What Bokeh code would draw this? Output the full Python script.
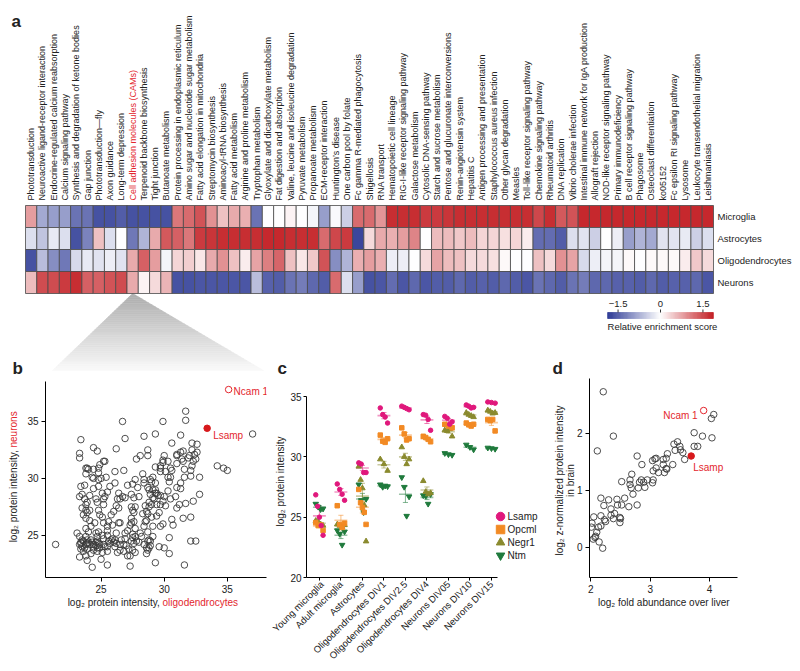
import math
import numpy as np
from bokeh.plotting import figure
from bokeh.models import Range1d, ColumnDataSource, Label, FixedTicker, LinearColorMapper
from bokeh.layouts import column, row
from bokeh.embed import file_html
from bokeh.resources import INLINE
from bokeh.core.properties import value

FONT = "Liberation Sans"
RED = "#e3262e"
INK = "#222222"

# ---------------- data: panel a (heatmap) ----------------
pathways = [
    "Phototransduction", "Neuroactive ligand-receptor interaction",
    "Endocrine-regulated calcium reabsorption", "Calcium signaling pathway",
    "Synthesis and degradation of ketone bodies", "Gap junction",
    "Phototransduction\u2014fly", "Axon guidance", "Long-term depression",
    "Cell adhesion molecules (CAMs)", "Terpenoid backbone biosynthesis",
    "Tight junction", "Butanoate metabolism",
    "Protein processing in endoplasmic reticulum",
    "Amino sugar and nucleotide sugar metabolism",
    "Fatty acid elongation in mitochondria", "Streptomycin biosynthesis",
    "Aminoacyl-tRNA biosynthesis", "Fatty acid metabolism",
    "Arginine and proline metabolism", "Tryptophan metabolism",
    "Glyoxylate and dicarboxylate metabolism", "Fat digestion and absorption",
    "Valine, leucine and isoleucine degradation", "Pyruvate metabolism",
    "Propanoate metabolism", "ECM-receptor interaction",
    "Huntington\u2019s disease", "One carbon pool by folate",
    "Fc gamma R-mediated phagocytosis", "Shigellosis", "RNA transport",
    "Hematopoietic cell lineage", "RIG-I-like receptor signaling pathway",
    "Galactose metabolism", "Cytosolic DNA-sensing pathway",
    "Starch and sucrose metabolism", "Pentose and glucuronate interconversions",
    "Renin-angiotensin system", "Hepatitis C",
    "Antigen processing and presentation", "Staphylococcus aureus infection",
    "Other glycan degradation", "Measles",
    "Toll-like receptor signaling pathway", "Chemokine signaling pathway",
    "Rheumatoid arthritis", "DNA replication", "Vibrio cholerae infection",
    "Intestinal immune network for IgA production", "Allograft rejection",
    "NOD-like receptor signaling pathway", "Primary immunodeficiency",
    "B cell receptor signaling pathway", "Phagosome",
    "Osteoclast differentiation", "ko05152", "Fc epsilon RI signaling pathway",
    "Lysosome", "Leukocyte transendothelial migration", "Leishmaniasis",
]
highlight_pathway = "Cell adhesion molecules (CAMs)"
cell_types = ["Microglia", "Astrocytes", "Oligodendrocytes", "Neurons"]

microglia = [0.8, -0.8, -0.9, -0.9, -1.3, -1.3, -1.6, -1.6, -1.5, -1.6, -1.6, -1.6, -1.6,
             1.1, 1.2, 1.4, 0.9, 0.5, 0.7, 0.65, -1.3, 0.0, 0.0,
             0.1, 0.0, -0.1, -0.9, -0.05, -0.45, 1.2, 1.2, 0.85,
             1.7, 1.7, 1.7, 1.6, 1.6, 1.65, 1.7, 1.7, 1.7, 1.7, 1.7, 1.7, 1.7,
             1.5, 1.7, 1.35, 1.4,
             1.75, 1.75, 1.75, 1.75, 1.75, 1.75, 1.75, 1.75, 1.75, 1.75, 1.75, 1.75]
astrocytes = [-0.3, -0.55, -0.2, -0.3, -1.6, -1.15, 0.5, -0.3, 0.0, -1.25, -0.7, 0.7, 1.35,
              1.3, 1.1, 1.6, 1.65, 1.7, 1.7, 1.7, 1.7, 1.75, 1.75,
              1.7, 1.7, 1.7, 1.2, 1.5, 1.6, -1.7, 0.3, 0.7,
              0.65, 0.8, 1.0, 0.0, 0.55, 0.55, 0.45, 0.55, 0.35, 0.35, 0.25, 0.35, 0.15,
              -1.35, -1.35, -1.5, -0.3, -0.25, -0.45, 0.0, -0.15, -0.9, -0.7, -0.8, -0.25,
              -0.25, -0.2, -0.45, -0.3]
oligodendrocytes = [-1.6, -0.6, -1.05, -1.25, -0.35, -0.2, -0.25, -0.15, -0.25, 0.7, 1.3, 0.8,
                    -0.1, 0.35, 0.4,
                    0.2, 0.7, 0.9, 0.5, 0.15, 0.75, 1.05, 1.25, 0.5, 0.2, 0.45, 1.4, -1.05,
                    -0.7, 0.65, 0.8,
                    0.65, -0.15, -0.15, 0.0, 0.3, 0.75, 0.55, 0.5, 0.3, 0.3, 0.25, 0.05, 0.0,
                    0.0, 0.5,
                    0.3, 0.9, 0.75, -0.35, -0.15, -0.1, -0.1, 0.05, 0.0, 0.05, 0.05, 0.05,
                    0.15, 0.45, 0.3]
neurons = [0.55, 1.45, 1.45, 1.6, 1.7, 1.3, 1.3, 1.4, 1.45, 0.7, 0.1, 0.3, 0.6, -1.6, -1.6, -1.55,
           -1.55, -1.55, -1.55, -1.55, -0.6, -1.45, -1.5, -1.3, -1.2, -1.4, -1.5, 1.2, -0.3,
           -0.9, -1.6,
           -1.55, -1.35, -1.55, -1.4, -1.55, -1.5, -1.5, -1.4, -1.5, -1.45, -1.5, -1.4, -1.5,
           -1.55, -1.3,
           -1.4, -1.5, -1.3, -1.2, -1.4, -1.4, -1.45, -1.45, -1.5, -1.4, -1.5, -1.45, -1.45,
           -1.4, -1.55]
score_limit = 1.87
cbar_ticks = [-1.5, 0.0, 1.5]
cbar_tick_labels = ["\u22121.5", "0", "1.5"]
cbar_title = "Relative enrichment score"

# ---------------- data: panel b ----------------
b_oligo = [21.4,37.0,31.7,31.7,26.7,29.9,23.4,29.3,28.4,31.3,30.6,23.3,23.3,24.4,24.7,26.2,26.9,28.7,28.7,28.1,27.8,25.2,24.9,25.3,32.2,32.2,32.4,32.5,32.6,32.6,32.0,31.5,31.3,31.4,31.0,31.0,31.0,31.5,31.9,32.3,32.2,32.1,32.1,31.6,31.6,32.8,31.3,31.0,31.3,32.8,30.0,29.9,29.9,29.7,29.7,30.1,30.3,30.5,30.4,30.6,
           23.9,23.8,24.0,24.4,24.8,24.8,24.3,24.4,25.0,25.4,24.8,23.8,23.4,23.7,24.4,24.8,25.1,25.3,25.5,26.1,26.8,26.1,25.7,25.2,28.3,28.4,28.4,28.9,29.0,29.3,29.1,28.7,28.8,28.9,29.1,29.3,29.3,29.4,29.1,29.2,29.5,29.7,30.0,29.9,29.4,29.0,28.8,28.6,28.7,28.3,28.5,28.8,29.7,30.1,29.6,29.4,29.0,28.6,28.5,28.4,29.1,28.7,28.1,28.2,28.8,28.9,28.7,28.9,28.6,28.4,28.6,28.7,28.8,29.1,29.7,29.9,30.0,29.6,29.3,
           27.1,27.5,27.9,27.7,27.4,27.6,28.0,27.7,27.4,27.5,27.6,27.4,27.6,27.4,27.3,27.1,27.7,27.7,27.5,27.5,27.4,27.6,27.8,28.0,26.9,26.9,26.6,26.8,27.0,27.2,27.5,27.7,27.1,27.3,27.3,26.8,
           26.4,26.3,26.7,26.9,26.5,26.2,26.4,26.0,25.8,25.6,25.9,26.4,26.5,26.2,26.1,25.9,26.1,26.5,25.5,25.7,25.5,25.2,25.1,
           23.8,23.9,24.0,24.2,24.3,24.4,24.6,24.7,24.8,24.9,24.6,24.4,24.1,23.8,23.6,23.5,23.4,23.5,23.7,23.9,24.4,24.7,24.9,25.2,25.3,25.5,25.1,24.7,24.2,23.9,
           23.1,23.3,23.4,23.4,23.3,23.8,24.0,24.2,24.6,24.7,24.8,24.1,24.5,23.8,23.6,23.5,23.8,23.9,23.7,23.3,23.5,24.1,24.6,24.7,24.8,25.2,24.9,25.1,25.2,25.5,25.5,23.8,23.9,24.1,
           23.3,23.6,23.8,23.9,24.3,25.0,25.5,25.6,25.8,26.0,26.2,26.3,26.5,
           30.6,30.7,31.5,32.1,32.1,32.5,30.4,30.4,31.6,31.7,31.2,32.3,31.0,30.3,30.5,30.9,30.3,30.5,29.7,29.3,34.2,34.7,35.0]
b_neuron = [24.2,33.9,35.9,35.1,35.0,35.0,33.4,33.9,33.7,33.8,33.1,32.2,31.8,32.7,32.4,32.6,33.5,32.5,32.0,32.0,31.7,31.5,31.2,31.5,33.1,32.5,32.1,31.7,32.3,33.0,32.0,32.4,32.3,31.7,32.1,32.0,31.3,31.5,31.8,31.5,31.1,30.7,30.2,30.1,30.8,30.1,29.6,29.2,29.1,28.6,32.0,31.4,31.6,31.1,30.9,30.6,30.1,30.1,29.7,30.7,
            30.9,30.9,30.8,30.8,30.9,30.5,30.1,30.0,30.0,30.1,29.9,30.4,29.3,29.4,29.1,29.3,28.7,28.4,28.8,30.6,30.7,29.6,29.3,28.2,30.4,29.9,29.6,29.9,29.7,29.6,30.1,29.2,29.0,28.6,29.0,29.0,28.7,28.7,28.3,28.2,28.5,28.5,28.4,28.0,27.7,27.7,27.5,27.1,26.9,26.9,27.6,27.9,27.7,27.6,27.0,26.7,26.6,26.3,26.2,25.8,25.8,25.3,25.2,24.9,24.6,24.5,24.5,24.1,23.9,24.2,23.4,23.7,23.9,24.9,25.8,26.0,23.9,24.0,22.6,
            29.4,29.5,29.2,29.9,28.6,28.3,28.4,27.5,27.5,27.2,27.0,26.5,26.2,26.1,25.9,25.4,25.6,24.9,25.1,24.8,24.5,24.3,24.5,24.4,25.2,24.7,24.6,24.2,24.1,23.8,23.7,23.5,23.2,23.2,22.3,23.6,
            28.7,28.2,28.4,28.3,28.2,27.6,27.4,27.1,26.8,26.2,25.9,26.1,26.1,25.2,24.6,24.7,24.0,24.2,24.0,24.3,25.0,24.7,25.0,
            24.9,24.6,24.4,24.6,24.4,24.2,24.4,24.5,24.3,24.2,24.1,24.0,24.2,24.2,24.5,24.6,24.3,24.0,23.9,23.8,23.7,23.6,23.9,24.2,24.0,23.6,23.5,23.9,23.4,24.3,
            25.2,24.9,24.4,23.8,24.2,25.6,25.3,25.8,25.2,24.9,25.3,26.3,26.1,26.5,26.8,27.4,27.7,27.9,28.2,28.4,28.6,28.5,28.2,27.9,27.2,27.7,26.8,26.6,26.1,25.8,25.4,27.2,27.0,27.2,
            23.1,23.6,23.2,22.8,22.2,22.9,22.4,24.5,24.6,24.4,24.3,23.5,23.7,
            26.4,25.9,26.5,26.6,24.5,24.5,24.8,23.4,22.4,27.8,27.7,28.0,27.4,28.9,28.2,28.4,31.5,30.9,30.6,31.0,31.1,30.9,30.7]
b_ncam1 = (35.1, 37.8)
b_lsamp = (33.4, 34.4)
b_ticks = [25, 30, 35]

# ---------------- data: panel c ----------------
c_groups = ["Young microglia", "Adult microglia", "Astrocytes", "Oligodendrocytes DIV1",
            "Oligodendrocytes DIV2.5", "Oligodendrocytes DIV4", "Neurons DIV05",
            "Neurons DIV10", "Neurons DIV15"]
c_lsamp = [[26.85, 25.9, 25.0, 24.3, 23.5], [27.75, 27.3, 26.9, 26.4], [29.5, 29.4, 28.7, 28.7],
           [34.05, 33.5, 33.3, 32.8], [34.2, 34.1, 34.0, 33.9], [33.5, 33.45, 33.1, 32.2],
           [33.35, 33.2, 32.7, 32.9], [34.3, 34.2, 34.05, 34.1], [34.55, 34.5, 34.45]]
c_opcml = [[24.55, 24.3, 24.35, 23.9], [25.95, 24.4, 24.15, 24.5], [27.3, 26.2, 25.8, 25.4, 24.4],
           [31.8, 31.3, 31.2, 31.5], [32.4, 31.9, 31.4, 31.5], [31.7, 31.6, 31.45, 31.25],
           [32.7, 32.55, 32.4], [32.8, 32.65, 32.55, 32.7], [33.1, 33.0, 33.1, 32.15]]
c_negr1 = [[24.7, 24.6, 24.4, 24.3], [24.4, 24.3, 24.2, 24.35], [29.2, 28.1, 27.4, 26.0, 23.0],
           [29.8, 29.4, 28.85], [30.8, 30.0, 29.4, 29.8], [28.0, 27.1, 26.9, 27.0],
           [32.2, 32.15, 32.3, 31.7], [33.65, 33.5, 33.4, 33.3], [33.85, 33.75, 33.6, 33.65]]
c_ntm = [[26.1, 25.85, 25.65, 25.7], [23.9, 23.6, 22.7, 23.8], [27.7, 26.4, 25.4, 26.5],
         [27.7, 27.5, 27.6, 27.55], [28.3, 27.5, 25.1, 26.7], [26.8, 26.75, 26.1, 26.9],
         [30.3, 30.2, 30.15], [31.0, 30.8, 30.6], [30.75, 30.7, 30.65]]
c_ticks = [20, 25, 30, 35]

# ---------------- data: panel d ----------------
d_fold = [2.21,2.11,2.38,4.07,4.03,3.74,3.88,4.04,3.74,3.80,3.40,3.46,3.50,3.42,3.51,3.55,3.58,3.29,3.27,3.22,3.38,3.22,3.27,3.28,3.24,3.14,3.08,3.10,3.04,3.10,3.05,3.05,3.04,2.78,2.86,2.69,2.66,2.66,2.68,2.71,2.52,2.85,2.89,2.91,2.95,2.80,2.82,2.78,2.64,2.57,2.44,2.45,2.52,2.30,2.17,2.22,2.34,2.40,2.34,2.38,2.49,2.50,2.49,2.23,2.25,2.17,2.05,2.02,2.01,2.13,2.17,2.10,2.07,2.04,2.14,2.20,2.08]
d_brain = [2.73,1.69,1.95,2.33,2.26,2.01,1.95,1.92,1.77,1.77,1.81,1.85,1.77,1.70,1.71,1.66,1.54,1.64,1.56,1.54,1.45,1.45,1.38,1.37,1.31,1.31,1.55,1.56,1.52,1.39,1.34,1.18,1.13,1.60,1.45,1.28,1.18,1.10,1.04,0.93,1.15,1.18,1.14,1.05,1.18,1.04,1.14,0.74,0.71,0.86,0.84,0.74,0.74,0.83,0.86,0.73,0.67,0.59,0.56,0.50,0.52,0.50,0.43,0.48,0.45,0.55,0.53,0.42,0.35,0.35,0.37,0.26,0.17,0.14,0.09,-0.02,0.19]
d_ncam1 = (3.90, 2.40)
d_lsamp = (3.69, 1.60)
d_xticks = [2, 3, 4]
d_yticks = [0, 1, 2]

# ---------------- helpers ----------------
def make_palette(n=256):
    lo, hi, w = (40, 53, 147), (194, 26, 31), (255, 255, 255)
    pal = []
    for i in range(n):
        t = -1 + 2 * i / (n - 1)
        end = lo if t < 0 else hi
        a = abs(t)
        c = [w[k] + (end[k] - w[k]) * a for k in range(3)]
        pal.append("#%02x%02x%02x" % tuple(int(round(v)) for v in c))
    return pal


def mk_label(x, y, text, color=INK, align="center", angle=0.0, size="10px",
             style="normal", baseline="middle"):
    return Label(x=x, y=y, x_units="screen", y_units="screen", text=text,
                 text_color=color, text_align=align, text_baseline=baseline,
                 angle=angle, text_font=FONT, text_font_size=size, text_font_style=style)


def style_axes(fig, tick_out=4, standoff=3):
    for ax in fig.axis:
        ax.axis_line_color = "black"
        ax.axis_line_width = 1
        ax.major_tick_line_color = "black"
        ax.major_tick_out = tick_out
        ax.major_tick_in = 0
        ax.minor_tick_line_color = None
        ax.major_label_standoff = standoff
        ax.major_label_text_font = FONT
        ax.major_label_text_font_size = "10px"
        ax.major_label_text_color = INK
    fig.grid.visible = False
    fig.outline_line_color = None
    fig.background_fill_color = None
    fig.border_fill_color = None


palette = make_palette()
mapper = LinearColorMapper(palette=palette, low=-score_limit, high=score_limit)

# ---------------- panel a ----------------
W = 800
TOP_H = 378
BOT_H = 293
COL_W = (713 - 25) / 61
ROW_H = 22.0
HEAT_LEFT = 25.0
HEAT_TOP = 205.0
ncol = len(pathways)
nrow = len(cell_types)
heat_bottom = HEAT_TOP + nrow * ROW_H
xr0 = -HEAT_LEFT / COL_W
xr1 = xr0 + W / COL_W
yr0 = -(TOP_H - heat_bottom) / ROW_H
yr1 = nrow + HEAT_TOP / ROW_H

pa = figure(width=W, height=TOP_H, x_range=Range1d(xr0, xr1), y_range=Range1d(yr0, yr1),
            output_backend="svg", toolbar_location=None, min_border=0,
            x_axis_location=None, y_axis_location=None)
pa.grid.visible = False
pa.outline_line_color = None

# zoom triangle (gradient approximated by bands)
hi_idx = pathways.index(highlight_pathway)
apex_x = hi_idx + 0.5
base_y = -(370 - heat_bottom) / ROW_H
base_l = (52 - HEAT_LEFT) / COL_W
base_r = (263 - HEAT_LEFT) / COL_W
nb = 40
txs, tys, tcols = [], [], []
for k in range(nb):
    f0, f1 = k / nb, (k + 1) / nb
    l0 = apex_x + (base_l - apex_x) * f0
    l1 = apex_x + (base_l - apex_x) * f1
    r0 = apex_x + (base_r - apex_x) * f0
    r1 = apex_x + (base_r - apex_x) * f1
    txs.append([l0, r0, r1, l1])
    tys.append([base_y * f0, base_y * f0, base_y * f1, base_y * f1])
    g = int(round(172 + (250 - 172) * (f0 + f1) / 2))
    tcols.append("#%02x%02x%02x" % (g, g, g))
pa.patches(xs=txs, ys=tys, fill_color=tcols, line_color=tcols, line_width=0.6)

hx, hy, hv = [], [], []
for r, arr in enumerate([microglia, astrocytes, oligodendrocytes, neurons]):
    for i, v in enumerate(arr):
        hx.append(i + 0.5)
        hy.append(nrow - 0.5 - r)
        hv.append(v)
heat_src = ColumnDataSource(dict(x=hx, y=hy, v=hv))
pa.rect(x="x", y="y", width=1, height=1, source=heat_src,
        fill_color={"field": "v", "transform": mapper}, line_color="#4a4a4a", line_width=0.8)

lab_src = ColumnDataSource(dict(
    x=[i + 0.5 for i in range(ncol)], y=[nrow + 5 / ROW_H] * ncol, text=pathways,
    color=[RED if p == highlight_pathway else INK for p in pathways]))
pa.text(x="x", y="y", text="text", source=lab_src, angle=math.pi / 2, text_align="left",
        text_baseline="middle", text_font=value(FONT), text_font_size="9px", text_color="color")

row_src = ColumnDataSource(dict(x=[ncol + 4 / COL_W] * nrow,
                                y=[nrow - 0.5 - r for r in range(nrow)], text=cell_types))
pa.text(x="x", y="y", text="text", source=row_src, text_align="left", text_baseline="middle",
        text_font=value(FONT), text_font_size="9.5px", text_color=INK)

# colour bar on its own scale
CB_CENTER = 660.0
CB_PPU = 28.3
pa.extra_x_ranges = {"cb": Range1d(-CB_CENTER / CB_PPU, (W - CB_CENTER) / CB_PPU)}
pa.extra_y_ranges = {"px": Range1d(TOP_H, 0)}
edges = np.linspace(-score_limit, score_limit, 121)
cb_src = ColumnDataSource(dict(l=edges[:-1], r=edges[1:], m=(edges[:-1] + edges[1:]) / 2))
pa.quad(left="l", right="r", bottom=318, top=312, source=cb_src, x_range_name="cb",
        y_range_name="px", fill_color={"field": "m", "transform": mapper},
        line_color={"field": "m", "transform": mapper}, line_width=0.6)
pa.segment(x0=cbar_ticks, x1=cbar_ticks, y0=[309] * 3, y1=[312] * 3, line_color="#333333",
           line_width=1, x_range_name="cb", y_range_name="px")
pa.text(x=cbar_ticks, y=[303] * 3, text=cbar_tick_labels, x_range_name="cb", y_range_name="px",
        text_align="center", text_baseline="middle", text_font=value(FONT),
        text_font_size="9.5px", text_color=INK)
pa.text(x=[-score_limit], y=[326], text=[cbar_title], x_range_name="cb", y_range_name="px",
        text_align="left", text_baseline="middle", text_font=value(FONT),
        text_font_size="9.5px", text_color=INK)

# panel letters
pa.add_layout(mk_label(11, TOP_H - 21, "a", size="17px", style="bold", align="left",
                       baseline="alphabetic"))
for lx, letter in [(12, "b"), (277, "c"), (552, "d")]:
    pa.add_layout(mk_label(lx, 0.5, letter, size="17px", style="bold", align="left",
                           baseline="bottom"))

# bottom panels share the same frame top (378) and bottom (577)
BORDER_TOP = 0
BORDER_BOT = BOT_H - (577 - TOP_H)
TXT_H = 11.5  # height of one 10px text slot in a side panel

# ---------------- panel b ----------------
pb = figure(width=270, height=BOT_H, x_range=Range1d(20.6, 38.1), y_range=Range1d(21.3, 38.77),
            output_backend="svg", toolbar_location=None,
            min_border_left=45, min_border_right=4, min_border_top=BORDER_TOP,
            min_border_bottom=BORDER_BOT)
style_axes(pb)
pb.xaxis.ticker = FixedTicker(ticks=b_ticks)
pb.yaxis.ticker = FixedTicker(ticks=b_ticks)
pb.yaxis.bounds = (21.3, 38.5)
pb.scatter(b_oligo, b_neuron, marker="circle", size=6.5, fill_color=None,
           line_color="#3a3a3a", line_width=0.9)
pb.scatter([b_ncam1[0]], [b_ncam1[1]], marker="circle", size=6.5, fill_color=None,
           line_color=RED, line_width=1)
pb.scatter([b_lsamp[0]], [b_lsamp[1]], marker="circle", size=6.5, fill_color="#d7191c",
           line_color="#d7191c")
pb.add_layout(Label(x=b_ncam1[0], y=b_ncam1[1], x_offset=5, y_offset=-2, text="Ncam 1",
                    text_color=RED, text_baseline="middle", text_font=FONT,
                    text_font_size="10px"))
pb.add_layout(Label(x=b_lsamp[0], y=b_lsamp[1], x_offset=6, y_offset=-7, text="Lsamp",
                    text_color=RED, text_baseline="middle", text_font=FONT,
                    text_font_size="10px"))
# axis titles in side panels (two coloured parts on one line)
pb.add_layout(mk_label(162 - 45, 4, "log\u2082 protein intensity, ", align="right"), "below")
pb.add_layout(mk_label(162 - 45, 4 + TXT_H, "oligodendrocytes", color=RED, align="left"),
              "below")
pb.add_layout(mk_label(TXT_H / 2 - 6, 577 - 447, "log\u2082 protein intensity, ",
                       align="right", angle=math.pi / 2), "left")
pb.add_layout(mk_label(1.5 * TXT_H - 6, 577 - 447, "neurons", color=RED, align="left",
                       angle=math.pi / 2), "left")

# ---------------- panel c ----------------
pc = figure(width=275, height=BOT_H, x_range=Range1d(-0.6, 10.42),
            y_range=Range1d(20, 20 + 199 / (181 / 15)),
            output_backend="svg", toolbar_location=None,
            min_border_left=36, min_border_right=2, min_border_top=BORDER_TOP,
            min_border_bottom=BORDER_BOT)
style_axes(pc, tick_out=3, standoff=2)
pc.yaxis.ticker = FixedTicker(ticks=c_ticks)
pc.yaxis.bounds = (20, 35)
pc.xaxis.ticker = FixedTicker(ticks=list(range(len(c_groups))))
pc.xaxis.major_label_overrides = {i: g for i, g in enumerate(c_groups)}
pc.xaxis.major_label_orientation = math.pi / 4
pc.xaxis.major_label_text_font_size = "9.5px"
pc.xaxis.bounds = (-0.6, 8.3)

series = [
    ("Ntm", c_ntm, "inverted_triangle", "#1f7a3c", 5.5),
    ("Negr1", c_negr1, "triangle", "#8a8a2e", 5.5),
    ("Opcml", c_opcml, "square", "#f28a24", 4.5),
    ("Lsamp", c_lsamp, "circle", "#e0187c", 4.5),
]
for name, data, marker, color, size in series:
    mx0, mx1, my, ey0, ey1 = [], [], [], [], []
    for g, vals in enumerate(data):
        n = len(vals)
        m = float(np.mean(vals))
        se = float(np.std(vals, ddof=1) / np.sqrt(n))
        mx0.append(g - 0.3); mx1.append(g + 0.3); my.append(m)
        ey0.append(m - se); ey1.append(m + se)
    gx = list(range(len(data)))
    pc.segment(x0=mx0, x1=mx1, y0=my, y1=my, line_color=color, line_alpha=0.45, line_width=1.6)
    pc.segment(x0=gx, x1=gx, y0=ey0, y1=ey1, line_color=color, line_alpha=0.55, line_width=1)
    pc.segment(x0=[g - 0.12 for g in gx], x1=[g + 0.12 for g in gx], y0=ey0, y1=ey0,
               line_color=color, line_alpha=0.55, line_width=1)
    pc.segment(x0=[g - 0.12 for g in gx], x1=[g + 0.12 for g in gx], y0=ey1, y1=ey1,
               line_color=color, line_alpha=0.55, line_width=1)
for name, data, marker, color, size in series:
    px, py = [], []
    for g, vals in enumerate(data):
        offs = np.linspace(-0.17, 0.17, len(vals))
        px += [g + o for o in offs]
        py += vals
    pc.scatter(px, py, marker=marker, size=size, fill_color=color, line_color=color)

# legend (drawn in plot space beyond the axis end)
leg_names = ["Lsamp", "Opcml", "Negr1", "Ntm"]
leg_style = {s[0]: s for s in series}
c_ppu_x = 21.5
c_ppu_y = 181 / 15
leg_x = -0.6 + (500 - 306) / c_ppu_x
leg_tx = -0.6 + (507 - 306) / c_ppu_x
for k, nm in enumerate(leg_names):
    _, _, marker, color, _ = leg_style[nm]
    ly = 20 + (577 - (516 + 13 * k)) / c_ppu_y
    pc.scatter([leg_x], [ly], marker=marker, size=8.5, fill_color=color, line_color=color)
    pc.text(x=[leg_tx], y=[ly], text=[nm], text_align="left", text_baseline="middle",
            text_font=value(FONT), text_font_size="10px", text_color=INK)
pc.add_layout(mk_label(TXT_H / 2 - 2, 577 - 481, "log\u2082 protein intensity",
                       angle=math.pi / 2), "left")

# ---------------- panel d ----------------
pdd = figure(width=255, height=BOT_H, x_range=Range1d(1.978, 4.47),
             y_range=Range1d(-0.535, 2.963), output_backend="svg", toolbar_location=None,
             min_border_left=44, min_border_right=63, min_border_top=BORDER_TOP,
             min_border_bottom=BORDER_BOT)
style_axes(pdd)
pdd.xaxis.ticker = FixedTicker(ticks=d_xticks)
pdd.yaxis.ticker = FixedTicker(ticks=d_yticks)
pdd.scatter(d_fold, d_brain, marker="circle", size=6.5, fill_color=None,
            line_color="#3a3a3a", line_width=0.9)
pdd.scatter([d_ncam1[0]], [d_ncam1[1]], marker="circle", size=6.5, fill_color=None,
            line_color=RED, line_width=1)
pdd.scatter([d_lsamp[0]], [d_lsamp[1]], marker="circle", size=6.5, fill_color="#d7191c",
            line_color="#d7191c")
pdd.add_layout(Label(x=d_ncam1[0], y=d_ncam1[1], x_offset=-6, y_offset=-5, text="Ncam 1",
                     text_color=RED, text_align="right", text_baseline="middle",
                     text_font=FONT, text_font_size="10px"))
pdd.add_layout(Label(x=d_lsamp[0], y=d_lsamp[1], x_offset=2, y_offset=-11, text="Lsamp",
                     text_color=RED, text_align="left", text_baseline="middle",
                     text_font=FONT, text_font_size="10px"))
pdd.add_layout(mk_label(663 - 588.7, 4, "log\u2082 fold abundance over liver"), "below")
# two-line y title: inner slot "in brain", outer slot the first line (11 px further left)
pdd.add_layout(mk_label(TXT_H / 2 + 2, 577 - 480, "in brain", angle=math.pi / 2), "left")
pdd.add_layout(mk_label(TXT_H / 2 + 2 + TXT_H - 11, 577 - 480,
                        "log\u2082 z-normalized protein intensity", angle=math.pi / 2), "left")

layout = column(pa, row(pb, pc, pdd))
open("out.html", "w").write(file_html(layout, INLINE))
